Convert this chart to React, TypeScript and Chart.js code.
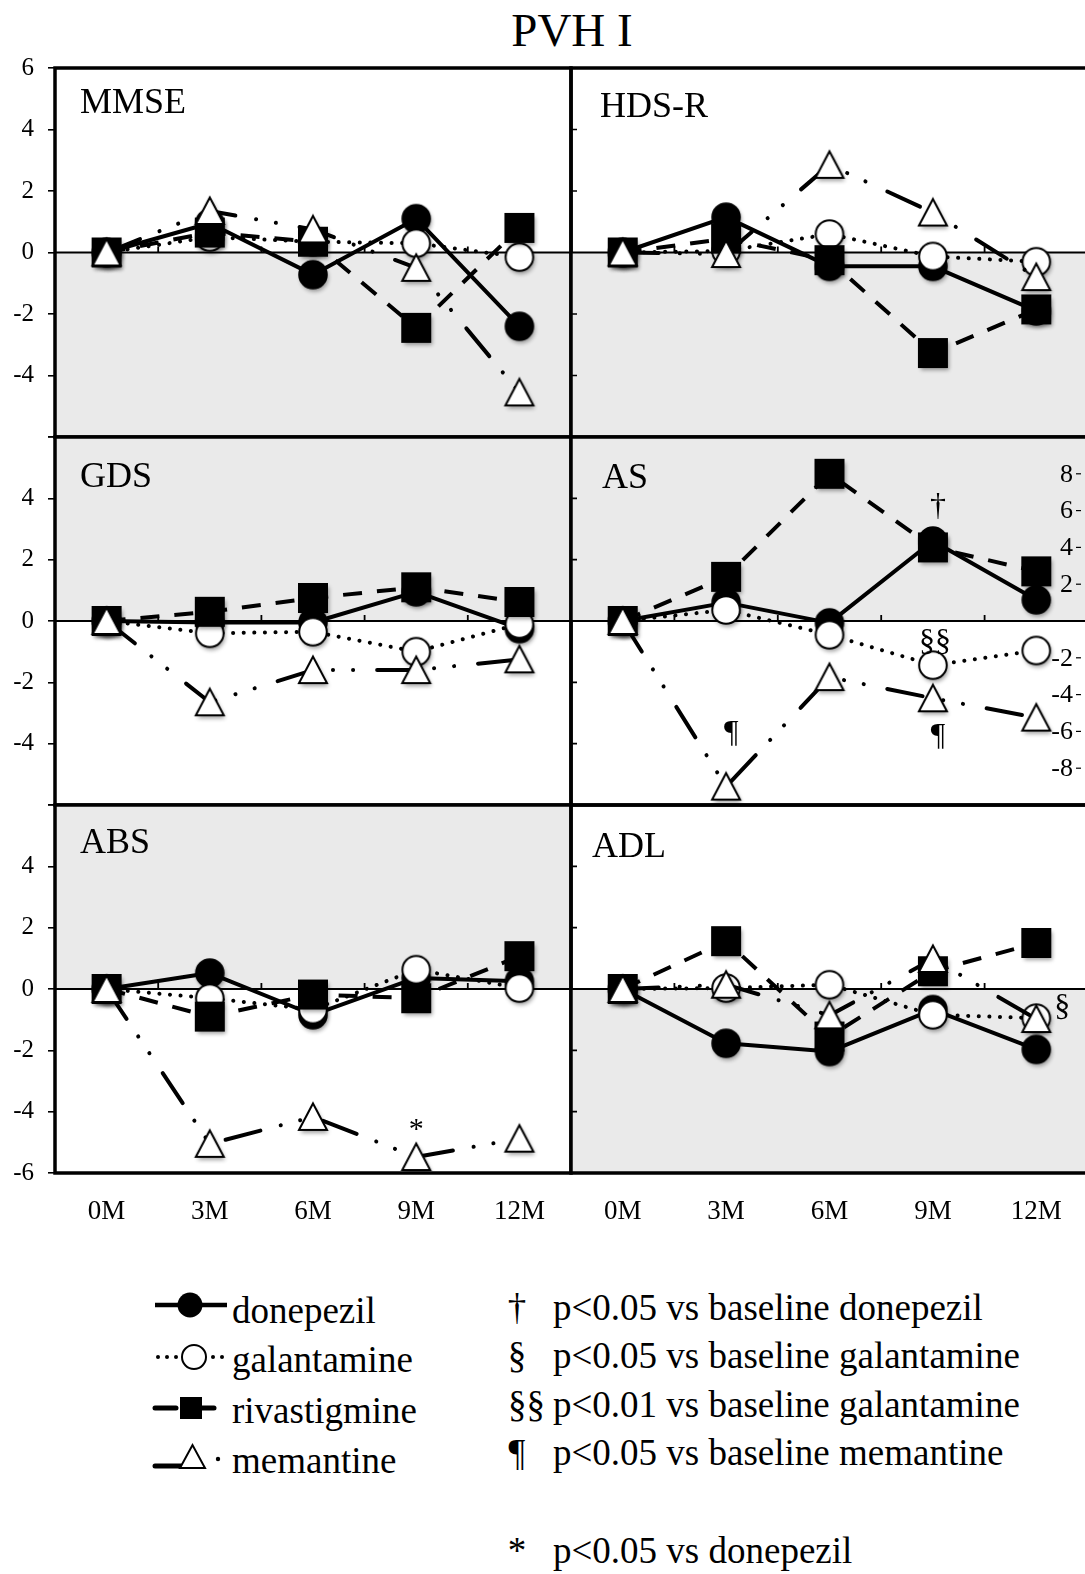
import React, { useEffect, useRef } from 'react';
import { Chart, registerables } from 'chart.js';

Chart.register(...registerables);

const FONT = '"Liberation Serif", "Times New Roman", Times, serif';
const SHADE = '#eaeaea';

// ---------- data ----------
const months = ['0M', '3M', '6M', '9M', '12M'];
const drugNames = ['donepezil', 'galantamine', 'rivastigmine', 'memantine'];

const mmseDonepezil = [0, 0.95, -0.72, 1.1, -2.4];
const mmseGalantamine = [0, 0.5, 0.35, 0.3, -0.15];
const mmseRivastigmine = [0, 0.65, 0.35, -2.45, 0.8];
const mmseMemantine = [0, 1.35, 0.75, -0.5, -4.55];

const hdsrDonepezil = [0, 1.15, -0.45, -0.45, -1.9];
const hdsrGalantamine = [0, 0.05, 0.6, -0.13, -0.3];
const hdsrRivastigmine = [0, 0.45, -0.25, -3.27, -1.85];
const hdsrMemantine = [0, -0.05, 2.85, 1.3, -0.8];

const gdsDonepezil = [0, -0.05, -0.05, 0.95, -0.25];
const gdsGalantamine = [0, -0.4, -0.35, -1.0, -0.1];
const gdsRivastigmine = [0, 0.3, 0.75, 1.1, 0.62];
const gdsMemantine = [0, -2.65, -1.6, -1.6, -1.25];

const asDonepezil = [0, 1.0, -0.1, 4.35, 1.15];
const asGalantamine = [0, 0.6, -0.75, -2.4, -1.6];
const asRivastigmine = [0, 2.4, 8.0, 4.0, 2.7];
const asMemantine = [0, -9.0, -3.05, -4.2, -5.25];

const absDonepezil = [0, 0.52, -0.84, 0.36, 0.25];
const absGalantamine = [0, -0.3, -0.67, 0.63, 0.03];
const absRivastigmine = [0, -0.9, -0.18, -0.3, 1.07];
const absMemantine = [0, -5.05, -4.17, -5.48, -4.88];

const adlDonepezil = [0, -1.77, -2.04, -0.67, -1.97];
const adlGalantamine = [0, 0.03, 0.14, -0.84, -0.95];
const adlRivastigmine = [0, 1.56, -1.55, 0.58, 1.5];
const adlMemantine = [0, 0.14, -0.86, 0.98, -0.98];

const innerTickValues = [-4, -2, 2, 4];
const asRightTickValues = [8, 6, 4, 2, -2, -4, -6, -8];

const annotations = [
  { panel: 'AS', text: '†', x: 3.05, y: 6.2 },
  { panel: 'AS', text: '§§', x: 3.02, y: -1.15 },
  { panel: 'AS', text: '¶', x: 1.05, y: -6.1 },
  { panel: 'AS', text: '¶', x: 3.05, y: -6.3 },
  { panel: 'ABS', text: '*', x: 3.0, y: -4.6 },
  { panel: 'ADL', text: '§', x: 4.25, y: -0.6 },
];

const legendRows = drugNames;
const footnoteSymbols = ['†', '§', '§§', '¶', '*'];
const footnoteTexts = [
  'p<0.05 vs baseline donepezil',
  'p<0.05 vs baseline galantamine',
  'p<0.01 vs baseline galantamine',
  'p<0.05 vs baseline memantine',
  'p<0.05 vs donepezil',
];

// ---------- styles ----------
const seriesStyles = [
  { dash: [] as number[], cap: 'butt', width: 4, marker: 'circle', fill: '#000', order: 4 },
  { dash: [0.1, 10.5], cap: 'round', width: 4, marker: 'circle', fill: '#fff', order: 3 },
  { dash: [19, 15], cap: 'butt', width: 4, marker: 'square', fill: '#000', order: 2 },
  { dash: [36, 21, 0.1, 20, 0.1, 24], cap: 'round', width: 4, marker: 'triangle', fill: '#fff', order: 1 },
];

function makeMarker(kind: string, fill: string): HTMLCanvasElement {
  const S = 46;
  const c = document.createElement('canvas');
  c.width = S;
  c.height = S;
  const ctx = c.getContext('2d')!;
  const cx = S / 2;
  const cy = S / 2;
  ctx.beginPath();
  if (kind === 'circle') ctx.arc(cx, cy, 13.8, 0, Math.PI * 2);
  else if (kind === 'square') ctx.rect(cx - 14, cy - 14, 28, 28);
  else {
    ctx.moveTo(cx, cy - 13.5);
    ctx.lineTo(cx + 14, cy + 13);
    ctx.lineTo(cx - 14, cy + 13);
    ctx.closePath();
  }
  ctx.save();
  ctx.shadowColor = 'rgba(0,0,0,0.38)';
  ctx.shadowBlur = 4;
  ctx.shadowOffsetX = 1.5;
  ctx.shadowOffsetY = 3;
  ctx.fillStyle = fill;
  ctx.fill();
  ctx.restore();
  ctx.fillStyle = fill;
  ctx.fill();
  ctx.strokeStyle = '#000';
  ctx.lineWidth = 2;
  ctx.lineJoin = 'miter';
  ctx.stroke();
  return c;
}

type PanelDef = {
  name: string;
  col: number;
  row: number;
  shade: 'above' | 'below';
  series: number[][];
  hide: number[];
  titleDx: number;
  titleBase: number;
  rightAxis?: boolean;
};

const panels: PanelDef[] = [
  { name: 'MMSE', col: 0, row: 0, shade: 'below', series: [mmseDonepezil, mmseGalantamine, mmseRivastigmine, mmseMemantine], hide: [-6], titleDx: 25, titleBase: 45 },
  { name: 'HDS-R', col: 1, row: 0, shade: 'below', series: [hdsrDonepezil, hdsrGalantamine, hdsrRivastigmine, hdsrMemantine], hide: [], titleDx: 29, titleBase: 49 },
  { name: 'GDS', col: 0, row: 1, shade: 'above', series: [gdsDonepezil, gdsGalantamine, gdsRivastigmine, gdsMemantine], hide: [6, -6], titleDx: 25, titleBase: 50 },
  { name: 'AS', col: 1, row: 1, shade: 'above', series: [asDonepezil, asGalantamine, asRivastigmine, asMemantine], hide: [], titleDx: 31, titleBase: 51, rightAxis: true },
  { name: 'ABS', col: 0, row: 2, shade: 'above', series: [absDonepezil, absGalantamine, absRivastigmine, absMemantine], hide: [6], titleDx: 25, titleBase: 48 },
  { name: 'ADL', col: 1, row: 2, shade: 'below', series: [adlDonepezil, adlGalantamine, adlRivastigmine, adlMemantine], hide: [], titleDx: 21, titleBase: 52 },
];

// ---------- layout ----------
const COL_LEFT = [55, 571];
const COL_RIGHT = [571, 1088];
const ROW_TOP = [68, 437, 805];
const ROW_BOTTOM = [437, 805, 1173];
const PAD = 34;
const Y_AXIS_W = 55;
const X_AXIS_H = 65;

function geometry(def: PanelDef) {
  const aL = COL_LEFT[def.col];
  const aR = COL_RIGHT[def.col];
  const aT = ROW_TOP[def.row];
  const aB = ROW_BOTTOM[def.row];
  const left = def.col === 0 ? 0 : aL - PAD;
  const width = aR + PAD - left;
  const top = aT - PAD;
  const bottomExtra = def.row === 2 ? X_AXIS_H : PAD;
  const height = aB + bottomExtra - top;
  return { left, top, width, height };
}

function Panel({ def }: { def: PanelDef }) {
  const ref = useRef<HTMLCanvasElement>(null);
  const g = geometry(def);

  useEffect(() => {
    const canvas = ref.current;
    if (!canvas) return;
    const yId = def.rightAxis ? 'y2' : 'y';
    const showX = def.row === 2;
    const showY = def.col === 0;

    const deco = {
      id: 'deco_' + def.name,
      beforeDatasetsDraw(chart: any) {
        const { ctx, chartArea: a, scales } = chart;
        const y = scales.y;
        const x = scales.x;
        const z = y.getPixelForValue(0);
        ctx.save();
        ctx.fillStyle = SHADE;
        if (def.shade === 'below') ctx.fillRect(a.left, z, a.right - a.left, a.bottom - z);
        else ctx.fillRect(a.left, a.top, a.right - a.left, z - a.top);
        ctx.strokeStyle = '#000';
        ctx.lineWidth = 1.8;
        ctx.beginPath();
        ctx.moveTo(a.left, z);
        ctx.lineTo(a.right, z);
        for (let i = 0; i < months.length - 1; i++) {
          const bx = (x.getPixelForValue(i) + x.getPixelForValue(i + 1)) / 2;
          ctx.moveTo(bx, z);
          ctx.lineTo(bx, z - 6);
        }
        ctx.stroke();
        if (def.col === 1) {
          ctx.lineWidth = 1.6;
          ctx.beginPath();
          for (const v of innerTickValues) {
            const py = y.getPixelForValue(v);
            ctx.moveTo(a.left, py);
            ctx.lineTo(a.left + 6, py);
          }
          ctx.stroke();
        }
        ctx.restore();
      },
      afterDatasetsDraw(chart: any) {
        const { ctx, chartArea: a, scales } = chart;
        ctx.save();
        ctx.strokeStyle = '#000';
        ctx.lineWidth = 3.5;
        ctx.strokeRect(a.left, a.top, a.right - a.left, a.bottom - a.top);
        ctx.fillStyle = '#000';
        ctx.font = `36px ${FONT}`;
        ctx.textAlign = 'left';
        ctx.textBaseline = 'alphabetic';
        ctx.fillText(def.name, a.left + def.titleDx, a.top + def.titleBase);
        if (def.rightAxis) {
          const y2 = scales.y2;
          ctx.font = `26px ${FONT}`;
          ctx.textAlign = 'right';
          ctx.textBaseline = 'middle';
          ctx.lineWidth = 1.2;
          for (const v of asRightTickValues) {
            const py = y2.getPixelForValue(v);
            ctx.fillText(String(v), a.left + 502, py + 1);
            ctx.beginPath();
            ctx.moveTo(a.left + 505, py);
            ctx.lineTo(a.left + 510, py);
            ctx.stroke();
          }
        }
        const ys = scales[yId];
        ctx.textAlign = 'center';
        ctx.textBaseline = 'middle';
        for (const an of annotations) {
          if (an.panel !== def.name) continue;
          ctx.font = `${an.text === '*' ? 30 : 32}px ${FONT}`;
          ctx.fillText(an.text, scales.x.getPixelForValue(an.x), ys.getPixelForValue(an.y));
        }
        ctx.restore();
      },
    };

    const datasets = def.series.map((vals, i) => {
      const st = seriesStyles[i];
      return {
        label: drugNames[i],
        data: vals,
        yAxisID: yId,
        order: st.order,
        borderColor: '#000',
        borderWidth: st.width,
        borderDash: st.dash,
        borderCapStyle: st.cap,
        borderJoinStyle: 'round',
        tension: 0,
        fill: false,
        pointStyle: makeMarker(st.marker, st.fill),
        pointRadius: 14,
        pointHoverRadius: 14,
        pointBackgroundColor: st.fill,
        pointBorderColor: '#000',
        pointBorderWidth: 2,
      };
    });

    const chart = new Chart(canvas, {
      type: 'line',
      data: { labels: months, datasets: datasets as any },
      plugins: [deco],
      options: {
        responsive: false,
        animation: false,
        events: [],
        devicePixelRatio: 1,
        layout: {
          padding: {
            left: showY ? 0 : PAD,
            right: PAD,
            top: PAD,
            bottom: showX ? 0 : PAD,
          },
        },
        plugins: { legend: { display: false }, tooltip: { enabled: false } },
        scales: {
          x: {
            type: 'category',
            offset: true,
            display: showX,
            afterFit: (s: any) => { if (showX) s.height = X_AXIS_H; },
            grid: { display: false, drawTicks: false },
            border: { display: false },
            ticks: { font: { family: FONT, size: 27 }, color: '#000', padding: 23, autoSkip: false, maxRotation: 0 },
          },
          y: {
            type: 'linear',
            min: -6,
            max: 6,
            display: showY,
            afterFit: (s: any) => { if (showY) s.width = Y_AXIS_W; },
            ticks: {
              stepSize: 2,
              font: { family: FONT, size: 25 },
              color: '#000',
              padding: 14,
              callback: (v: any) => (def.hide.includes(Number(v)) ? '' : String(v)),
            },
            grid: { drawOnChartArea: false, drawTicks: true, tickLength: 7, color: '#000', lineWidth: 1.6 },
            border: { display: false },
          },
          ...(def.rightAxis ? { y2: { type: 'linear', min: -10, max: 10, display: false } } : {}),
        } as any,
      },
    });
    return () => chart.destroy();
  }, []);

  return (
    <canvas
      ref={ref}
      width={g.width}
      height={g.height}
      style={{ position: 'absolute', left: g.left, top: g.top, width: g.width, height: g.height }}
    />
  );
}

function LegendGlyph({ idx, cy }: { idx: number; cy: number }) {
  if (idx === 0) {
    return (
      <g>
        <line x1={155} y1={cy} x2={227} y2={cy} stroke="#000" strokeWidth={4.5} />
        <circle cx={190} cy={cy} r={12.5} fill="#000" />
      </g>
    );
  }
  if (idx === 1) {
    return (
      <g>
        {[158, 167, 176, 213, 222].map((x) => (
          <circle key={x} cx={x} cy={cy} r={2} fill="#000" />
        ))}
        <circle cx={194} cy={cy} r={12} fill="#fff" stroke="#000" strokeWidth={2} />
      </g>
    );
  }
  if (idx === 2) {
    return (
      <g>
        <line x1={155} y1={cy} x2={176} y2={cy} stroke="#000" strokeWidth={5} strokeLinecap="round" />
        <line x1={200} y1={cy} x2={214} y2={cy} stroke="#000" strokeWidth={5} strokeLinecap="round" />
        <rect x={180} y={cy - 11} width={22} height={22} fill="#000" />
      </g>
    );
  }
  return (
    <g>
      <line x1={155} y1={cy + 8} x2={181} y2={cy + 8} stroke="#000" strokeWidth={5} strokeLinecap="round" />
      <polygon points={`${180},${cy + 10} ${205},${cy + 10} ${192.5},${cy - 13}`} fill="#fff" stroke="#000" strokeWidth={2} />
      <circle cx={218} cy={cy + 1} r={2.2} fill="#000" />
    </g>
  );
}

export default function App() {
  const legendY = [1305, 1357, 1408, 1458];
  const legendBase = [1323, 1372, 1423, 1473];
  const footBase = [1320, 1368, 1417, 1465, 1563];
  return (
    <div style={{ position: 'absolute', left: 0, top: 0, width: 1085, height: 1574, overflow: 'hidden', background: '#fff' }}>
      <svg width={1085} height={1574} style={{ position: 'absolute', left: 0, top: 0 }}>
        <text x={572} y={46} textAnchor="middle" fontFamily={FONT} fontSize={47} fill="#000">PVH I</text>
        {legendRows.map((name, i) => (
          <g key={name}>
            <LegendGlyph idx={i} cy={legendY[i]} />
            <text x={232} y={legendBase[i]} fontFamily={FONT} fontSize={37} fill="#000">{name}</text>
          </g>
        ))}
        {footnoteSymbols.map((sym, i) => (
          <g key={i}>
            <text
              x={sym === '§§' ? 508 : 517}
              y={footBase[i]}
              textAnchor={sym === '§§' ? 'start' : 'middle'}
              fontFamily={FONT}
              fontSize={37}
              fill="#000"
            >
              {sym}
            </text>
            <text x={553} y={footBase[i]} fontFamily={FONT} fontSize={37} fill="#000">{footnoteTexts[i]}</text>
          </g>
        ))}
      </svg>
      {panels.map((p) => (
        <Panel key={p.name} def={p} />
      ))}
    </div>
  );
}
